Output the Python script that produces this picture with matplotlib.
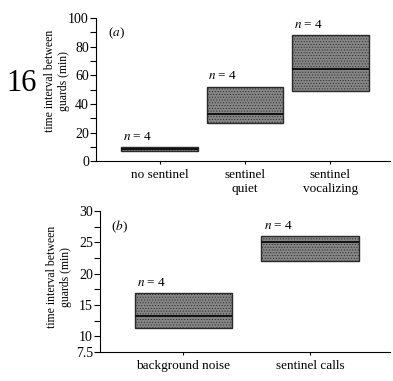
import matplotlib

matplotlib.use("Agg")

import matplotlib.pyplot as plt
from matplotlib.ticker import MultipleLocator, FixedLocator, FuncFormatter

plt.rcParams["font.family"] = ["Liberation Serif", "DejaVu Serif"]
plt.rcParams["mathtext.fontset"] = "stix"
plt.rcParams["hatch.color"] = "#666666"
plt.rcParams["hatch.linewidth"] = 0.4

# panel (a): guard intervals by sentinel condition
cats_a = ["no sentinel", "sentinel\nquiet", "sentinel\nvocalizing"]
low_a = [7.0, 26.5, 49.0]
med_a = [8.5, 33.0, 64.0]
high_a = [10.0, 52.0, 88.0]
n_a = [4, 4, 4]

# panel (b): playback experiment
cats_b = ["background noise", "sentinel calls"]
low_b = [11.3, 22.1]
med_b = [13.3, 25.1]
high_b = [17.0, 26.0]
n_b = [4, 4]

FILL = "#858585"
EDGE = "#2a2a2a"
FS = 9.5


def draw_boxes(ax, cats, low, med, high, ns, width, pad):
    x = list(range(len(cats)))
    heights = [h - l for l, h in zip(low, high)]
    ax.bar(x, heights, bottom=low, width=width, color=FILL,
           edgecolor=EDGE, linewidth=1.0, hatch="......", zorder=2)
    for xi, m in zip(x, med):
        ax.hlines(m, xi - width / 2, xi + width / 2, color="#111111",
                  linewidth=1.4, zorder=3)
    for xi, h, n in zip(x, high, ns):
        ax.text(xi - width / 2 + 0.02, h + pad, f"$n$ = {n}",
                ha="left", va="bottom", fontsize=FS)
    ax.set_xticks(x)
    ax.set_xticklabels(cats, fontsize=FS, linespacing=1.2)
    for s in ("top", "right"):
        ax.spines[s].set_visible(False)
    ax.tick_params(axis="x", length=2, width=0.8, pad=4)
    ax.tick_params(axis="y", which="both", direction="out", length=4,
                   width=0.8, labelsize=FS + 0.5, pad=1)


fig = plt.figure(figsize=(3.93, 3.81), dpi=100)

ax1 = fig.add_axes([0.244, 0.577, 0.748, 0.376])
draw_boxes(ax1, cats_a, low_a, med_a, high_a, n_a, 0.9, 3)
ax1.set_ylim(0, 100)
ax1.set_xlim(-0.75, 2.7)
ax1.yaxis.set_major_locator(MultipleLocator(20))
ax1.yaxis.set_minor_locator(MultipleLocator(10))
ax1.text(0.04, 0.95, "($a$)", transform=ax1.transAxes, fontsize=FS,
         ha="left", va="top")

ax2 = fig.add_axes([0.254, 0.076, 0.738, 0.370])
draw_boxes(ax2, cats_b, low_b, med_b, high_b, n_b, 0.77, 0.6)
ax2.set_ylim(7.5, 30)
ax2.set_xlim(-0.66, 1.63)
ax2.yaxis.set_major_locator(FixedLocator([7.5, 10, 15, 20, 25, 30]))
ax2.yaxis.set_minor_locator(FixedLocator([12.5, 17.5, 22.5, 27.5]))
ax2.yaxis.set_major_formatter(FuncFormatter(lambda v, p: f"{v:g}"))
ax2.text(0.04, 0.95, "($b$)", transform=ax2.transAxes, fontsize=FS,
         ha="left", va="top")

ylab = "time interval between\nguards (min)"
fig.text(0.145, 0.787, ylab, rotation=90, ha="center", va="center",
         fontsize=8.5, linespacing=1.25)
fig.text(0.15, 0.273, ylab, rotation=90, ha="center", va="center",
         fontsize=8.5, linespacing=1.25)
fig.text(0.015, 0.782, "16", fontsize=22, ha="left", va="center")

fig.savefig("out.png", dpi=100)
